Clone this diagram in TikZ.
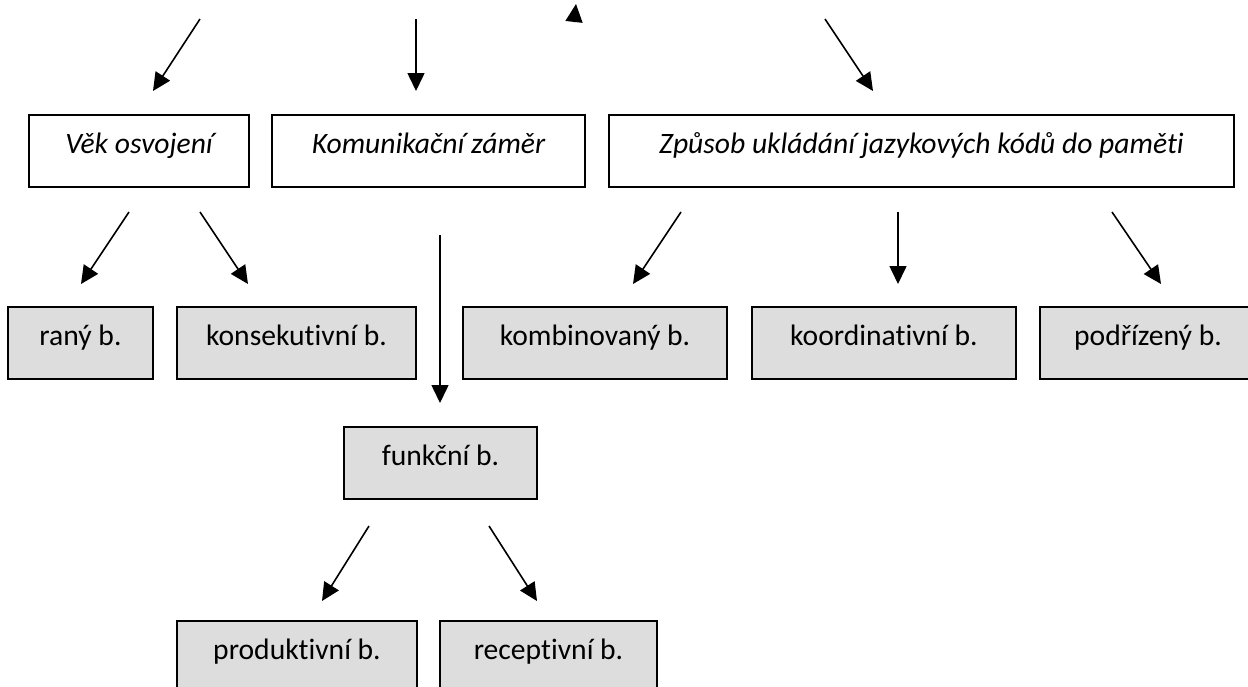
\documentclass[tikz,border=0pt]{standalone}
\usepackage{fontspec}
\setmainfont{Carlito}[Ligatures={NoCommon}]
\usetikzlibrary{arrows.meta}
\definecolor{boxgray}{RGB}{221,221,221}
\tikzstyle{head} = [draw=black, line width=1pt, inner xsep=0pt, inner ysep=0pt, text height=19pt, text depth=17pt, font={\fontsize{14.8}{17}\selectfont\itshape}]
\tikzstyle{kind} = [head, fill=boxgray, font={\fontsize{14.8}{17}\selectfont}]
\tikzstyle{arr} = [-{Triangle[length=9pt,width=8.5pt]}, line width=0.8pt]

\begin{document}
\begin{tikzpicture}[x=0.5pt, y=-0.5pt]
    \useasboundingbox (0,0) rectangle (1248,686);
    % criteria
    \node[head, minimum width=110pt](vek) at (139,151){Věk osvojení};
    \node[head, minimum width=156.5pt](komun) at (428.5,151){Komunikační záměr};
    \node[head, minimum width=312.5pt](zpusob) at (921.5,151){Způsob ukládání jazykových kódů do paměti};
    % kinds
    \node[kind, minimum width=72.5pt](rany) at (80.5,343){raný b.};
    \node[kind, minimum width=119.5pt](konsek) at (296.5,343){konsekutivní b.};
    \node[kind, minimum width=132pt](kombin) at (595,343){kombinovaný b.};
    \node[kind, minimum width=132pt](koord) at (884,343){koordinativní b.};
    \node[kind, minimum width=108pt](podriz) at (1148,343){podřízený b.};
    \node[kind, minimum width=96.5pt](funkcni) at (440.5,463){funkční b.};
    \node[kind, minimum width=120pt](produkt) at (297,657){produktivní b.};
    \node[kind, minimum width=108.5pt](recept) at (548.5,657){receptivní b.};
    % arrow ends
    \coordinate (a1) at (200,19);  \coordinate (b1) at (153,91);
    \coordinate (a2) at (416,19);  \coordinate (b2) at (416,91);
    \coordinate (a3) at (574,22);  \coordinate (b3) at (576,4);
    \coordinate (a4) at (825,19);  \coordinate (b4) at (873,91);
    \coordinate (a5) at (129,212); \coordinate (b5) at (81,284);
    \coordinate (a6) at (200,212); \coordinate (b6) at (248,284);
    \coordinate (a7) at (440,235); \coordinate (b7) at (440,403);
    \coordinate (a8) at (681,212); \coordinate (b8) at (633,284);
    \coordinate (a9) at (898,212); \coordinate (b9) at (898,284);
    \coordinate (a10) at (1112,212); \coordinate (b10) at (1161,284);
    \coordinate (a11) at (369,526); \coordinate (b11) at (322,601);
    \coordinate (a12) at (489,526); \coordinate (b12) at (537,601);
    \draw[arr](a1)--(b1);
    \draw[arr](a2)--(b2);
    \draw[arr](a3)--(b3);
    \draw[arr](a4)--(b4);
    \draw[arr](a5)--(b5);
    \draw[arr](a6)--(b6);
    \draw[arr](a7)--(b7);
    \draw[arr](a8)--(b8);
    \draw[arr](a9)--(b9);
    \draw[arr](a10)--(b10);
    \draw[arr](a11)--(b11);
    \draw[arr](a12)--(b12);
\end{tikzpicture}
\end{document}
